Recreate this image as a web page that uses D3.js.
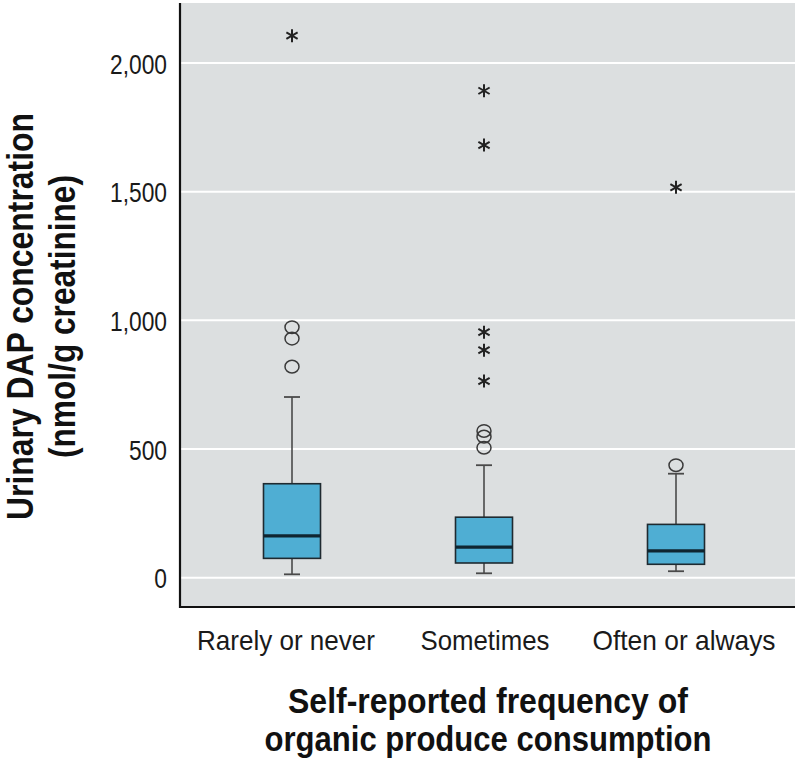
<!DOCTYPE html>
<html>
<head>
<meta charset="utf-8">
<script src="https://cdn.jsdelivr.net/npm/d3@7"></script>
<style>
  html, body { margin: 0; padding: 0; background: #ffffff; }
  svg { display: block; }
</style>
</head>
<body>
<svg id="chart" width="800" height="765"></svg>
<script>
// ---- Data ----
const categories = ["Rarely or never", "Sometimes", "Often or always"];
const whiskerLow  = [13, 17, 25];
const q1          = [75, 57, 52];
const median      = [162, 119, 104];
const q3          = [365, 235, 207];
const whiskerHigh = [702, 437, 404];
const outliersCircle = [[973, 929, 820], [570, 548, 505], [437]];
const outliersStar   = [[2106], [1892, 1681, 954, 884, 764], [1517]];
const yTicks = [0, 500, 1000, 1500, 2000];
const yTitleLines = ["Urinary DAP concentration", "(nmol/g creatinine)"];
const xTitleLines = ["Self-reported frequency of", "organic produce consumption"];

// ---- Layout ----
const W = 800, H = 765;
const margin = { top: 3, right: 5, bottom: 158, left: 180 };
const plotL = margin.left, plotR = W - margin.right;
const plotT = margin.top, plotB = H - margin.bottom;

const FONT = "'Liberation Sans', Arial, Helvetica, sans-serif";
const svg = d3.select("#chart");

const y = d3.scaleLinear().domain([-114, 2233]).range([plotB, plotT]);
const x = d3.scalePoint().domain(categories).range([plotL + 112, plotR - 119]);
const xLab = d3.scalePoint().domain(categories).range([plotL + 106, plotR - 111]);

// panel background
svg.append("rect")
  .attr("x", plotL).attr("y", plotT)
  .attr("width", plotR - plotL).attr("height", plotB - plotT)
  .attr("fill", "#dcdfe0");

// gridlines
svg.append("g").selectAll("line").data(yTicks).join("line")
  .attr("x1", plotL).attr("x2", plotR)
  .attr("y1", d => y(d)).attr("y2", d => y(d))
  .attr("stroke", "#ffffff").attr("stroke-width", 2);

// y axis labels
const yAxis = d3.axisLeft(y).tickValues(yTicks).tickFormat(d3.format(",")).tickSize(0).tickPadding(13);
const yg = svg.append("g").attr("transform", `translate(${plotL},0)`).call(yAxis);
yg.select(".domain").remove();
yg.selectAll("text")
  .attr("font-family", FONT).attr("font-size", 28).attr("fill", "#1a1a1a").attr("dy", "0.36em");

// axis lines
svg.append("line").attr("x1", plotL).attr("x2", plotL).attr("y1", plotT).attr("y2", plotB + 1)
  .attr("stroke", "#111").attr("stroke-width", 2.2);
svg.append("line").attr("x1", plotL - 1).attr("x2", plotR).attr("y1", plotB).attr("y2", plotB)
  .attr("stroke", "#111").attr("stroke-width", 2.2);

// boxes
const boxW = 57, capW = 16;
const groups = svg.append("g").selectAll("g").data(categories).join("g")
  .attr("transform", d => `translate(${x(d)},0)`);

groups.append("line") // whisker
  .attr("x1", 0).attr("x2", 0)
  .attr("y1", (d, i) => y(whiskerLow[i])).attr("y2", (d, i) => y(whiskerHigh[i]))
  .attr("stroke", "#4a4a4a").attr("stroke-width", 1.6);
groups.append("line") // top cap
  .attr("x1", -capW / 2).attr("x2", capW / 2)
  .attr("y1", (d, i) => y(whiskerHigh[i])).attr("y2", (d, i) => y(whiskerHigh[i]))
  .attr("stroke", "#4a4a4a").attr("stroke-width", 1.8);
groups.append("line") // bottom cap
  .attr("x1", -capW / 2).attr("x2", capW / 2)
  .attr("y1", (d, i) => y(whiskerLow[i])).attr("y2", (d, i) => y(whiskerLow[i]))
  .attr("stroke", "#4a4a4a").attr("stroke-width", 1.8);
groups.append("rect")
  .attr("x", -boxW / 2).attr("width", boxW)
  .attr("y", (d, i) => y(q3[i])).attr("height", (d, i) => y(q1[i]) - y(q3[i]))
  .attr("fill", "#4faed3").attr("stroke", "#1f2a30").attr("stroke-width", 1.6);
groups.append("line") // median
  .attr("x1", -boxW / 2).attr("x2", boxW / 2)
  .attr("y1", (d, i) => y(median[i])).attr("y2", (d, i) => y(median[i]))
  .attr("stroke", "#0f2530").attr("stroke-width", 3.2);

// circle outliers
groups.each(function (d, i) {
  d3.select(this).selectAll("ellipse").data(outliersCircle[i]).join("ellipse")
    .attr("cx", 0).attr("cy", v => y(v))
    .attr("rx", 7).attr("ry", 6.3)
    .attr("fill", "none").attr("stroke", "#3a3a3a").attr("stroke-width", 1.5);
});

// star outliers (6-spoke asterisk)
const starR = 6.5;
const starPath = (() => {
  const p = d3.path();
  for (let k = 0; k < 3; k++) {
    const a = Math.PI / 2 + k * Math.PI / 3;
    p.moveTo(starR * Math.cos(a), -starR * Math.sin(a));
    p.lineTo(-starR * Math.cos(a), starR * Math.sin(a));
  }
  return p.toString();
})();
groups.each(function (d, i) {
  d3.select(this).selectAll("path.star").data(outliersStar[i]).join("path")
    .attr("class", "star")
    .attr("d", starPath)
    .attr("transform", v => `translate(0,${y(v)})`)
    .attr("fill", "none").attr("stroke", "#222").attr("stroke-width", 2);
});

// category labels
const catTargets = [178, 129, 183];
svg.append("g").selectAll("text").data(categories).join("text")
  .attr("x", d => xLab(d)).attr("y", plotB + 43)
  .attr("text-anchor", "middle")
  .attr("font-family", FONT).attr("font-size", 28).attr("fill", "#1a1a1a")
  .attr("textLength", (d, i) => catTargets[i]).attr("lengthAdjust", "spacingAndGlyphs")
  .text(d => d);

// condense y tick labels consistently
(function () {
  const t = svg.append("text").attr("font-family", FONT).attr("font-size", 28).text("2,000");
  const k = 57 / t.node().getComputedTextLength();
  t.remove();
  yg.selectAll("text").each(function () {
    const w = this.getComputedTextLength();
    d3.select(this).attr("textLength", w * k).attr("lengthAdjust", "spacingAndGlyphs");
  });
})();

// y title
const yTitleTargets = [407, 283];
const yTitleX = [33, 75];
svg.append("g").selectAll("text").data(yTitleLines).join("text")
  .attr("transform", (d, i) => `translate(${yTitleX[i]},316.5) rotate(-90)`)
  .attr("text-anchor", "middle")
  .attr("font-family", FONT).attr("font-weight", "bold").attr("font-size", 36).attr("fill", "#111")
  .attr("textLength", (d, i) => yTitleTargets[i]).attr("lengthAdjust", "spacingAndGlyphs")
  .text(d => d);

// x title
const xTitleTargets = [400, 447];
const xTitleY = [713, 751];
svg.append("g").selectAll("text").data(xTitleLines).join("text")
  .attr("x", (plotL + plotR) / 2 + 0.5).attr("y", (d, i) => xTitleY[i])
  .attr("text-anchor", "middle")
  .attr("font-family", FONT).attr("font-weight", "bold").attr("font-size", 35).attr("fill", "#111")
  .attr("textLength", (d, i) => xTitleTargets[i]).attr("lengthAdjust", "spacingAndGlyphs")
  .text(d => d);
</script>
</body>
</html>
